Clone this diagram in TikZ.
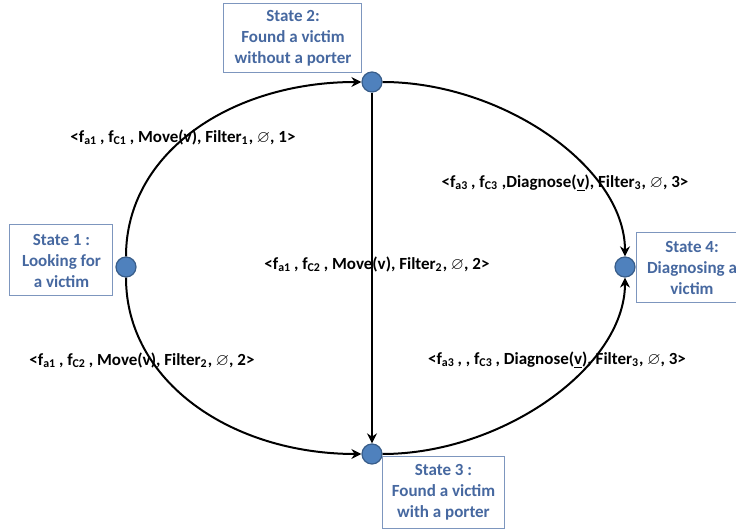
\documentclass[tikz,border=0pt]{standalone}
\usepackage{amssymb}
\usepackage{amsmath}
\usepackage{fontspec}
\setmainfont{Carlito}
\usetikzlibrary{arrows.meta}

\definecolor{stblue}{RGB}{79,129,189}
\definecolor{stedge}{RGB}{56,93,138}
\definecolor{boxtxt}{RGB}{70,104,160}
\definecolor{boxedge}{RGB}{125,150,190}

\tikzset{
  state/.style={circle,fill=stblue,draw=stedge,line width=0.6pt,minimum size=10pt,inner sep=0pt},
  statebox/.style={draw=boxedge,line width=0.5pt,fill=white,text=boxtxt,align=center,inner sep=1pt,
    font=\bfseries\fontsize{8.5}{10.5}\selectfont},
  tlabel/.style={inner sep=1pt,font=\bfseries\fontsize{8.5}{10}\selectfont},
  trans/.style={line width=1pt,-{Stealth[length=5pt,width=5pt]}}
}

\begin{document}
\begin{tikzpicture}[x=0.5pt,y=-0.5pt] % pixel grid of the drawing
\useasboundingbox (0,0) rectangle (736,529);
% states
\node[state] (s1) at (126,267) {};
\node[state] (s2) at (372,82) {};
\node[state] (s3) at (372,454) {};
\node[state] (s4) at (625,267) {};
% state boxes
\node[statebox,minimum width=51.5pt,minimum height=35.5pt] (b1) at (61.5,260.5) {State 1 :\\Looking for\\a victim};
\node[statebox,minimum width=69pt,minimum height=34.5pt] (b2) at (293,38.5) {State 2:\\Found a victim\\without a porter};
\node[statebox,minimum width=61pt,minimum height=36pt] (b3) at (443.5,492.5) {State 3 :\\Found a victim\\with a porter};
\node[statebox,minimum width=55pt,minimum height=35pt] (b4) at (692,268) {State 4:\\Diagnosing a\\victim};
% transitions
\draw[trans] (s1) .. controls +(0,-115) and +(-140,0) .. (s2);
\draw[trans] (s1) .. controls +(0,115) and +(-140,0) .. (s3);
\draw[trans] (s2) .. controls +(130,0) and +(0,-100) .. (s4);
\draw[trans] (s3) .. controls +(130,0) and +(0,100) .. (s4);
\draw[trans] (s2) -- (s3);
% labels
\node[tlabel] (l12) at (183,137) {<f\textsubscript{a1}\,, f\textsubscript{C1}\,, Move(v), Filter\textsubscript{1}, $\varnothing$, 1>};
\node[tlabel] (l24) at (565,183) {<f\textsubscript{a3}\,, f\textsubscript{C3} ,Diagnose(\underline{v}), Filter\textsubscript{3}, $\varnothing$, 3>};
\node[tlabel] (l23) at (377,264) {<f\textsubscript{a1}\,, f\textsubscript{C2}\,, Move(v), Filter\textsubscript{2}, $\varnothing$, 2>};
\node[tlabel] (l13) at (142,360) {<f\textsubscript{a1}\,, f\textsubscript{C2}\,, Move(v), Filter\textsubscript{2}, $\varnothing$, 2>};
\node[tlabel] (l34) at (557,360) {<f\textsubscript{a3}\,, , f\textsubscript{C3}\,, Diagnose(\underline{v}), Filter\textsubscript{3}, $\varnothing$, 3>};
\end{tikzpicture}
\end{document}
